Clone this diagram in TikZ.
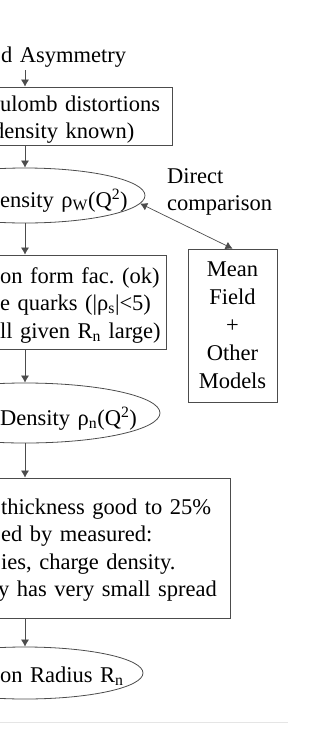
\documentclass[tikz,border=0pt]{standalone}
\usepackage{fontspec}
\setmainfont{Liberation Serif}
\usetikzlibrary{shapes.geometric, arrows.meta}
\frenchspacing

\tikzset{
  txt/.style={inner sep=0pt, anchor=base west, text width=320pt, align=left},
  boxnode/.style={draw=black!70, line width=0.8pt, rectangle, inner sep=0pt},
  ellnode/.style={draw=black!70, line width=0.8pt, ellipse, inner sep=0pt},
  arr/.style={-{Latex[length=7pt,width=8pt]}, draw=black!70, line width=0.7pt}
}

\begin{document}
\begin{tikzpicture}[x=1pt, y=-1pt, font=\fontsize{22.5}{27.6}\selectfont]
    \useasboundingbox (0,0) rectangle (312,745);
    \clip (0,0) rectangle (312,745);

    % Shapes
    \node[boxnode, minimum width=294pt, minimum height=58pt] (box1) at (25,116) {};
    \node[ellnode, minimum width=240pt, minimum height=55pt] (ell1) at (25,195.5) {};
    \node[boxnode, minimum width=282pt, minimum height=94pt] (box2) at (25,302) {};
    \node[ellnode, minimum width=270pt, minimum height=60pt] (ell2) at (25,413) {};
    \node[boxnode, minimum width=410pt, minimum height=140pt] (box3) at (25,548) {};
    \node[ellnode, minimum width=236pt, minimum height=52pt] (ell3) at (25,673) {};
    \node[boxnode, minimum width=89pt, minimum height=153pt, align=center,
          font=\fontsize{22.5}{28}\selectfont] (mf) at (232.5,325.5)
          {Mean\\Field\\+\\Other\\Models};

    % Texts
    \node[txt] (asym) at (1,62) {d Asymmetry};
    \node[txt] (coul) at (0,111) {ulomb distortions\\\hspace*{-7pt}density known)};
    \node[txt] (rhow) at (0,207) {ensity ρ\textsubscript{W}(Q\textsuperscript{2})};
    \node[txt] (form) at (0,283) {on form fac. (ok)\\e quarks (|ρ\textsubscript{s}|<5)\\ll given R\textsubscript{n} large)};
    \node[txt] (rhon) at (0,425) {Density ρ\textsubscript{n}(Q\textsuperscript{2})};
    \node[txt] (thick) at (1,514) {thickness good to 25\%\\ed by measured:\\ies, charge density.\\\hspace*{-3pt}y has very small spread};
    \node[txt] (radius) at (0,682) {on Radius R\textsubscript{n}};
    \node[txt] (direct) at (167,183) {Direct\\comparison};

    % Arrows
    \coordinate (c0) at (25,70);
    \draw[arr] (c0) -- (box1);
    \draw[arr] (box1) -- (ell1);
    \draw[arr] (ell1) -- (box2);
    \draw[arr] (box2) -- (ell2);
    \draw[arr] (ell2) -- (box3);
    \draw[arr] (box3) -- (ell3);
    \draw[arr, {Latex[length=7pt,width=8pt]}-{Latex[length=7pt,width=8pt]}] (ell1.-4) -- (mf.north);

    % Rule
    \draw[black!10, line width=0.8pt] (0,722) -- (288,722);
\end{tikzpicture}
\end{document}
